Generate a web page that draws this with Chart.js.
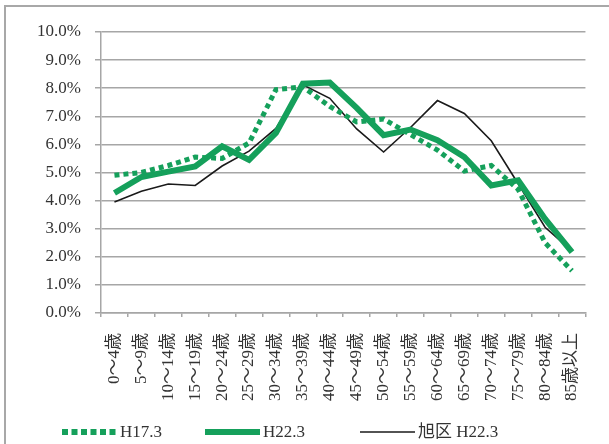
<!DOCTYPE html>
<html>
<head>
<meta charset="utf-8">
<script src="https://cdn.jsdelivr.net/npm/chart.js@4"></script>
<style>
  html, body { margin: 0; padding: 0; background: #fff; }
  #frame { position: absolute; left: 4px; top: 5px; width: 620px; height: 460px;
           border-left: 2px solid #a8a8a8; border-top: 2px solid #a8a8a8; }
  #wrap { position: absolute; left: 0; top: 0; width: 609px; height: 444px; }
</style>
</head>
<body>
<div id="frame"></div>
<div id="wrap"><canvas id="myChart" width="609" height="444"></canvas></div>
<script>
const ageGroups = ['0～4歳', '5～9歳', '10～14歳', '15～19歳', '20～24歳', '25～29歳',
  '30～34歳', '35～39歳', '40～44歳', '45～49歳', '50～54歳', '55～59歳',
  '60～64歳', '65～69歳', '70～74歳', '75～79歳', '80～84歳', '85歳以上'];

// share of population by age group, %
const h17 = [4.9, 5.0, 5.25, 5.55, 5.5, 6.05, 7.95, 8.05, 7.35, 6.8, 6.9, 6.35, 5.8, 5.05, 5.25, 4.4, 2.5, 1.5];
const h22 = [4.27, 4.84, 5.03, 5.22, 5.93, 5.45, 6.41, 8.16, 8.2, 7.3, 6.33, 6.53, 6.15, 5.55, 4.54, 4.72, 3.35, 2.17];
const asahi = [3.95, 4.33, 4.59, 4.54, 5.23, 5.76, 6.57, 8.12, 7.64, 6.55, 5.73, 6.6, 7.56, 7.1, 6.13, 4.6, 3.05, 2.2];

const seriesNames = ['H17.3', 'H22.3', '旭区 H22.3'];

const green = '#15a05b';
const fontFamily = '"Liberation Serif", "Noto Sans CJK JP", serif';

// legend sits under the axis labels, items placed like the original
const legendStarts = [62, 205, 360];
const legendY = 432;

const bottomLegend = {
  id: 'bottomLegend',
  afterDraw(chart) {
    const ctx = chart.ctx;
    ctx.save();
    ctx.font = '17px ' + fontFamily;
    ctx.textBaseline = 'middle';
    ctx.fillStyle = '#333';
    chart.data.datasets.forEach((ds, i) => {
      const x = legendStarts[i];
      ctx.beginPath();
      ctx.strokeStyle = ds.borderColor;
      ctx.lineWidth = i === 0 ? 6 : ds.borderWidth;
      ctx.lineCap = 'butt';
      ctx.setLineDash(i === 0 ? [6, 3.5] : []);
      ctx.moveTo(x, legendY);
      ctx.lineTo(x + 55, legendY);
      ctx.stroke();
      ctx.setLineDash([]);
      ctx.fillText(ds.label, x + 58, legendY + 1);
    });
    ctx.restore();
  },
};

const data = {
  labels: ageGroups,
  datasets: [
    {
      label: seriesNames[0],
      data: h17,
      borderColor: green,
      backgroundColor: green,
      borderWidth: 5,
      borderDash: [5, 4],
      borderCapStyle: 'butt',
    },
    {
      label: seriesNames[1],
      data: h22,
      borderColor: green,
      backgroundColor: green,
      borderWidth: 6,
    },
    {
      label: seriesNames[2],
      data: asahi,
      borderColor: '#1a1a1a',
      backgroundColor: '#1a1a1a',
      borderWidth: 1.6,
    },
  ],
};

const config = {
  type: 'line',
  data: data,
  options: {
    responsive: false,
    animation: false,
    elements: { point: { radius: 0 }, line: { tension: 0 } },
    layout: { padding: { left: 22, right: 22, top: 32, bottom: 0 } },
    plugins: {
      tooltip: { enabled: false },
      legend: { display: false },
    },
    scales: {
      x: {
        offset: true,
        grid: { offset: true, drawOnChartArea: false, tickLength: 4, color: '#a6a6a6', lineWidth: 1.5 },
        border: { color: '#a6a6a6', width: 1.5 },
        ticks: {
          autoSkip: false,
          minRotation: 90,
          maxRotation: 90,
          padding: 16,
          color: '#333',
          font: { family: fontFamily, size: 17 },
        },
        afterFit(scale) { scale.height = 131; },
      },
      y: {
        min: 0,
        max: 10,
        grid: { color: '#a6a6a6', lineWidth: 1.5, tickLength: 6 },
        border: { color: '#a6a6a6', width: 1.5 },
        ticks: {
          stepSize: 1,
          padding: 14,
          color: '#333',
          font: { family: fontFamily, size: 17 },
          callback: (v) => v.toFixed(1) + '%',
        },
        afterFit(scale) { scale.width = 79; },
      },
    },
  },
  plugins: [bottomLegend],
};

const myChart = new Chart(document.getElementById('myChart'), config);
</script>
</body>
</html>
